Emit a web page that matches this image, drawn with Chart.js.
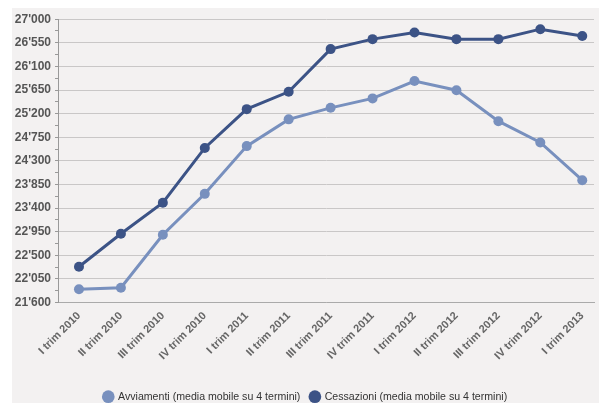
<!DOCTYPE html>
<html>
<head>
<meta charset="utf-8">
<script src="https://cdn.jsdelivr.net/npm/chart.js@4"></script>
<style>
  body { margin: 0; background: #fff; }
  #wrap { position: absolute; left: 12px; top: 8px; width: 587px; height: 395px; background: #f3f1f1; overflow: hidden; }
</style>
</head>
<body>
<div id="wrap"><canvas id="chart" width="587" height="404"></canvas></div>
<script>
const categories = ["I trim 2010", "II trim 2010", "III trim 2010", "IV trim 2010",
  "I trim 2011", "II trim 2011", "III trim 2011", "IV trim 2011",
  "I trim 2012", "II trim 2012", "III trim 2012", "IV trim 2012", "I trim 2013"];
const avviamenti = [21850, 21880, 22890, 23670, 24580, 25090, 25310, 25490, 25820, 25645, 25055, 24650, 23930];
const cessazioni = [22280, 22910, 23500, 24545, 25285, 25615, 26430, 26620, 26745, 26620, 26620, 26810, 26680];
const yMin = 21600, yMax = 27000, yStep = 450;

const lightBlue = "#7890be";
const darkBlue = "#3c5386";

function fmt(v) {
  return String(v).replace(/\B(?=(\d{3})+(?!\d))/g, "'");
}

const ctx = document.getElementById("chart").getContext("2d");

new Chart(ctx, {
  type: "line",
  data: {
    datasets: [
      {
        label: "Avviamenti (media mobile su 4 termini)",
        data: avviamenti.map((v, i) => ({ x: i, y: v })),
        borderColor: lightBlue,
        backgroundColor: lightBlue,
        pointBackgroundColor: lightBlue,
        borderWidth: 3,
        pointRadius: 5,
        pointBorderWidth: 0,
      },
      {
        label: "Cessazioni (media mobile su 4 termini)",
        data: cessazioni.map((v, i) => ({ x: i, y: v })),
        borderColor: darkBlue,
        backgroundColor: darkBlue,
        pointBackgroundColor: darkBlue,
        borderWidth: 3,
        pointRadius: 5,
        pointBorderWidth: 0,
      },
    ],
  },
  options: {
    responsive: false,
    animation: false,
    layout: { padding: { top: 11, right: 0, left: 0, bottom: 0 } },
    plugins: {
      tooltip: { enabled: false },
      legend: {
        position: "bottom",
        labels: {
          usePointStyle: true,
          pointStyle: "circle",
          boxWidth: 9,
          boxHeight: 9,
          padding: 10,
          color: "#333",
          font: { family: "Liberation Sans, Arial", size: 10.6 },
        },
      },
    },
    scales: {
      x: {
        type: "linear",
        min: -0.5,
        max: 12.28,
        afterBuildTicks: (s) => { s.ticks = categories.map((c, i) => ({ value: i })); },
        afterFit: (s) => { s.height = 79; },
        grid: { display: false },
        border: { display: true, color: "#aaa" },
        ticks: {
          autoSkip: false,
          minRotation: 45,
          maxRotation: 45,
          padding: -1,
          color: "#666",
          font: { family: "Liberation Sans, Arial", size: 11, weight: "bold" },
          callback: (v) => categories[v],
        },
      },
      y: {
        min: yMin,
        max: yMax,
        afterBuildTicks: (s) => {
          const t = [];
          for (let v = yMin; v <= yMax; v += yStep / 2) t.push({ value: v });
          s.ticks = t;
        },
        afterFit: (s) => { s.width = 46; },
        border: { display: true, color: "#999" },
        grid: {
          color: (c) => ((c.tick.value - yMin) % yStep === 0 ? "#c9c7c7" : "rgba(0,0,0,0)"),
          tickColor: "#999",
          tickLength: 3,
        },
        ticks: {
          autoSkip: false,
          padding: 4,
          color: "#555",
          font: { family: "Liberation Sans, Arial", size: 12, weight: "bold" },
          callback: (v) => ((v - yMin) % yStep === 0 ? fmt(v) : ""),
        },
      },
    },
  },
});
</script>
</body>
</html>
